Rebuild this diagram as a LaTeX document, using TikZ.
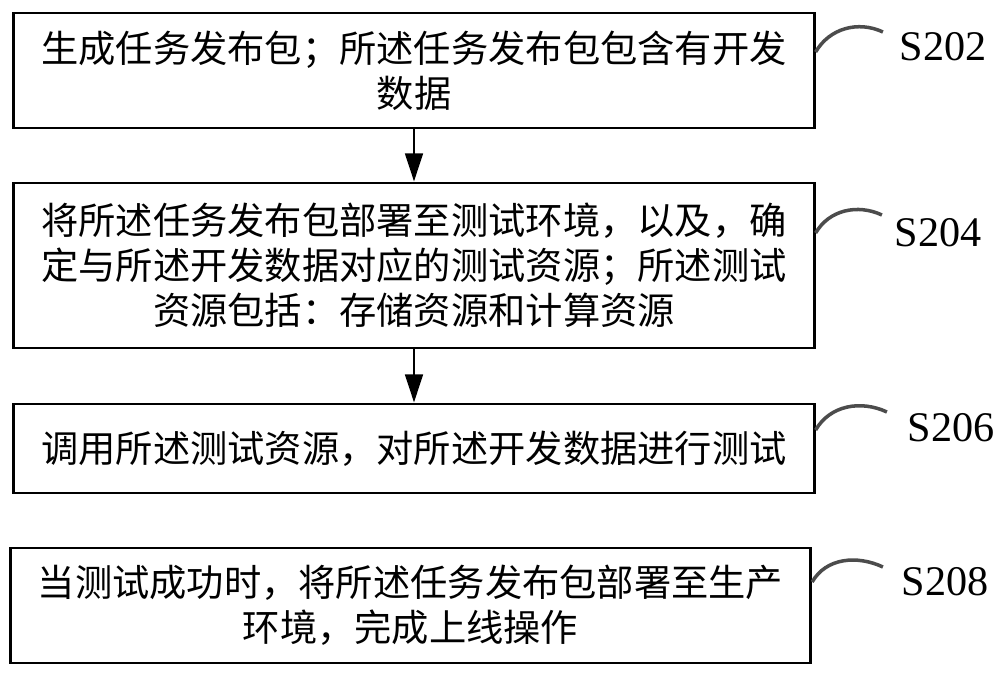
\documentclass[tikz,border=0pt]{standalone}
\usepackage{fontspec}
\setmainfont{Liberation Serif}
\newfontfamily\cjk{Noto Sans CJK SC}
\usetikzlibrary{arrows.meta}

\begin{document}
\begin{tikzpicture}[x=0.01cm, y=-0.01cm,
  stepbox/.style={rectangle, draw, line width=0.8pt, minimum width=8cm, align=center, inner sep=0pt,
    font=\cjk\fontsize{10.6pt}{12.8pt}\selectfont},
  steplabel/.style={inner sep=0pt, font=\fontsize{12pt}{14pt}\selectfont},
  wave/.style={draw=black!70, line width=1pt, out=60, in=155},
  inflow/.style={{Triangle[length=8pt, width=5pt]}-, line width=0.8pt}]
\useasboundingbox (0,0) rectangle (1000,673);

\node (b1) at (414,70.5) [stepbox, minimum height=1.15cm] {生成任务发布包；所述任务发布包包含有开发\\数据};
	\node (s202) at (943,47) [steplabel] {S202};

\node (b2) at (414,265.5) [stepbox, minimum height=1.65cm] {将所述任务发布包部署至测试环境，以及，确\\定与所述开发数据对应的测试资源；所述测试\\资源包括：存储资源和计算资源} edge[inflow] (b1);
	\node (s204) at (938,233) [steplabel] {S204};

\node (b3) at (414,448.5) [stepbox, minimum height=0.89cm] {调用所述测试资源，对所述开发数据进行测试} edge[inflow] (b2);
	\node (s206) at (951,428) [steplabel] {S206};

\node (b4) at (410.5,605.5) [stepbox, minimum height=1.15cm] {当测试成功时，将所述任务发布包部署至生产\\环境，完成上线操作};
	\node (s208) at (945,582) [steplabel] {S208};

% step numbers
\draw[wave] ([yshift=0.185cm]b1.east) to ([xshift=-0.16cm,yshift=0.15cm]s202.west);
\draw[wave] ([yshift=0.325cm]b2.east) to ([xshift=-0.12cm,yshift=0.18cm]s204.west);
\draw[wave] ([yshift=0.185cm]b3.east) to ([xshift=-0.2cm,yshift=0.16cm]s206.west);
\draw[wave] ([yshift=0.235cm]b4.east) to ([xshift=-0.18cm,yshift=0.15cm]s208.west);

\end{tikzpicture}
\end{document}
